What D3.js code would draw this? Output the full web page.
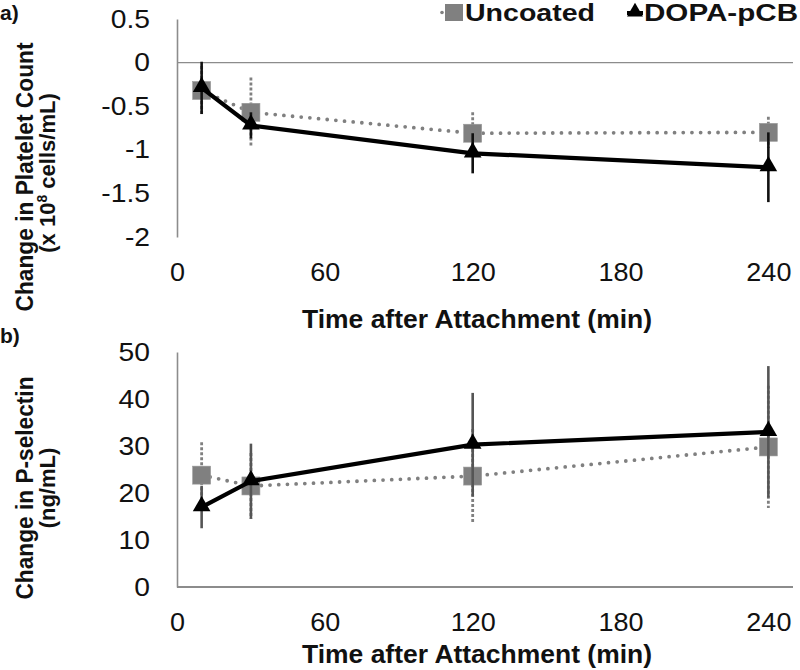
<!DOCTYPE html>
<html><head><meta charset="utf-8">
<script src="https://cdn.jsdelivr.net/npm/d3@7"></script>
<style>body{margin:0;background:#fff}svg{display:block;font-family:Arial,"Liberation Sans",sans-serif}</style>
</head><body>
<svg id="c" width="800" height="670"></svg>
<script>
const times = [10, 30, 120, 240];
const xTicks = [0, 60, 120, 180, 240];
const yTicksA = [0.5, 0, -0.5, -1, -1.5, -2];
const yTicksB = [0, 10, 20, 30, 40, 50];
const seriesNames = ["Uncoated", "DOPA-pCB"];
// Panel a: change in platelet count (x 10^8 cells/mL)
const uncoatedA = [-0.32, -0.57, -0.81, -0.80];
const uncoatedErrA = [0.28, 0.40, 0.24, 0.18];
const dopaA = [-0.29, -0.72, -1.04, -1.20];
const dopaErrA = [0.30, 0.15, 0.23, 0.40];
// Panel b: change in P-selectin (ng/mL)
const uncoatedB = [23.8, 21.5, 23.6, 29.8];
const uncoatedErrB = [7, 7, 10, 13];
const dopaB = [17.0, 22.5, 30.3, 33.0];
const dopaErrB = [4.5, 8, 11, 14];

const svg = d3.select("#c");
const grey = "#808080";

const x = d3.scaleLinear().domain([0, 250]).range([177, 793]);
const yA = d3.scaleLinear().domain([-2, 0.5]).range([237, 19]);
const yB = d3.scaleLinear().domain([0, 50]).range([587, 352]);

function stretch(sel, f) {
  sel.each(function () {
    const L = this.getComputedTextLength();
    this.setAttribute("textLength", L * f);
    this.setAttribute("lengthAdjust", "spacingAndGlyphs");
  });
}

function panel(y, baseY, yTicks, unc, uncErr, dopa, dopaErr, dopaErrColor, zeroLine) {
  const g = svg.append("g");
  const ya = g.append("g").attr("transform", `translate(${x(0)},0)`)
    .call(d3.axisLeft(y).tickValues(yTicks).tickSize(0).tickPadding(27).tickFormat(d => String(d)));
  ya.select(".domain").attr("stroke", "#8c8c8c").attr("stroke-width", 1.6);
  ya.selectAll("text").attr("font-size", 25).attr("fill", "#111").attr("font-family", "Arial, Liberation Sans, sans-serif");
  stretch(ya.selectAll("text"), 1.13);
  const xa = g.append("g").attr("transform", `translate(0,${baseY})`)
    .call(d3.axisBottom(x).tickValues(xTicks).tickSize(0).tickPadding(26));
  xa.select(".domain").remove();
  xa.selectAll("text").attr("font-size", 25).attr("fill", "#111").attr("font-family", "Arial, Liberation Sans, sans-serif");
  stretch(xa.selectAll("text"), 1.08);
  g.append("line").attr("x1", x(0)).attr("x2", x(250)).attr("y1", y(0)).attr("y2", y(0))
    .attr("stroke", "#8c8c8c").attr("stroke-width", zeroLine ? 1.2 : 2);

  g.selectAll(".ue").data(times).join("line")
    .attr("x1", d => x(d)).attr("x2", d => x(d))
    .attr("y1", (d, i) => y(unc[i] + uncErr[i])).attr("y2", (d, i) => y(unc[i] - uncErr[i]))
    .attr("stroke", grey).attr("stroke-width", 2.8).attr("stroke-dasharray", "3 2");
  g.append("path").datum(times)
    .attr("d", d3.line().x(d => x(d)).y((d, i) => y(unc[i])))
    .attr("fill", "none").attr("stroke", grey).attr("stroke-width", 3.8)
    .attr("stroke-linecap", "round").attr("stroke-dasharray", "0 8.7");
  g.selectAll(".sq").data(times).join("rect")
    .attr("x", d => x(d) - 9).attr("y", (d, i) => y(unc[i]) - 9)
    .attr("width", 18).attr("height", 18).attr("fill", grey).attr("stroke", "#9a9a9a").attr("stroke-width", 0.6);

  g.selectAll(".de").data(times).join("line")
    .attr("x1", d => x(d)).attr("x2", d => x(d))
    .attr("y1", (d, i) => y(dopa[i] + dopaErr[i])).attr("y2", (d, i) => y(dopa[i] - dopaErr[i]))
    .attr("stroke", dopaErrColor).attr("stroke-width", 2.6);
  g.append("path").datum(times)
    .attr("d", d3.line().x(d => x(d)).y((d, i) => y(dopa[i])))
    .attr("fill", "none").attr("stroke", "#000").attr("stroke-width", 4.2);
  const tri = d3.symbol().type(d3.symbolTriangle).size(135);
  g.selectAll(".tr").data(times).join("path")
    .attr("d", tri).attr("transform", (d, i) => `translate(${x(d)},${y(dopa[i]) - 1})`)
    .attr("fill", "#000");
}

panel(yA, 237, yTicksA, uncoatedA, uncoatedErrA, dopaA, dopaErrA, "#111", true);
panel(yB, 587, yTicksB, uncoatedB, uncoatedErrB, dopaB, dopaErrB, "#555", false);

const bold = (t) => t.attr("font-weight", "bold").attr("fill", "#111");
// x titles
bold(svg.append("text").attr("x", 477).attr("y", 328).attr("text-anchor", "middle").attr("font-size", 25)
  .attr("textLength", 350).attr("lengthAdjust", "spacingAndGlyphs").text("Time after Attachment (min)"));
bold(svg.append("text").attr("x", 477).attr("y", 663).attr("text-anchor", "middle").attr("font-size", 25)
  .attr("textLength", 350).attr("lengthAdjust", "spacingAndGlyphs").text("Time after Attachment (min)"));
// y titles
bold(svg.append("text").attr("transform", "translate(33,177) rotate(-90)").attr("text-anchor", "middle").attr("font-size", 23)
  .attr("textLength", 269).attr("lengthAdjust", "spacingAndGlyphs").text("Change in Platelet Count"));
const ylab2 = bold(svg.append("text").attr("transform", "translate(55,173) rotate(-90)").attr("text-anchor", "middle").attr("font-size", 22));
ylab2.append("tspan").text("(x 10");
ylab2.append("tspan").attr("baseline-shift", "super").attr("font-size", 14).text("8");
ylab2.append("tspan").text(" cells/mL)");
bold(svg.append("text").attr("transform", "translate(33,488) rotate(-90)").attr("text-anchor", "middle").attr("font-size", 23)
  .attr("textLength", 223).attr("lengthAdjust", "spacingAndGlyphs").text("Change in P-selectin"));
bold(svg.append("text").attr("transform", "translate(55,488) rotate(-90)").attr("text-anchor", "middle").attr("font-size", 22)
  .text("(ng/mL)"));

// panel letters
bold(svg.append("text").attr("x", 0).attr("y", 20).attr("font-size", 21).text("a)"));
bold(svg.append("text").attr("x", 0).attr("y", 343).attr("font-size", 21).text("b)"));

// legend
const lg = svg.append("g");
lg.append("circle").attr("cx", 442).attr("cy", 12.5).attr("r", 1.8).attr("fill", grey);
lg.append("rect").attr("x", 445).attr("y", 4).attr("width", 18).attr("height", 17).attr("fill", grey);
bold(lg.append("text").attr("x", 465).attr("y", 21).attr("font-size", 24)
  .attr("textLength", 130).attr("lengthAdjust", "spacingAndGlyphs").text(seriesNames[0]));
lg.append("line").attr("x1", 627).attr("x2", 643).attr("y1", 13).attr("y2", 13).attr("stroke", "#000").attr("stroke-width", 4);
lg.append("path").attr("d", d3.symbol().type(d3.symbolTriangle).size(110)).attr("transform", "translate(635,12)").attr("fill", "#000");
bold(lg.append("text").attr("x", 644).attr("y", 21).attr("font-size", 24)
  .attr("textLength", 154).attr("lengthAdjust", "spacingAndGlyphs").text(seriesNames[1]));
</script>
</body></html>
